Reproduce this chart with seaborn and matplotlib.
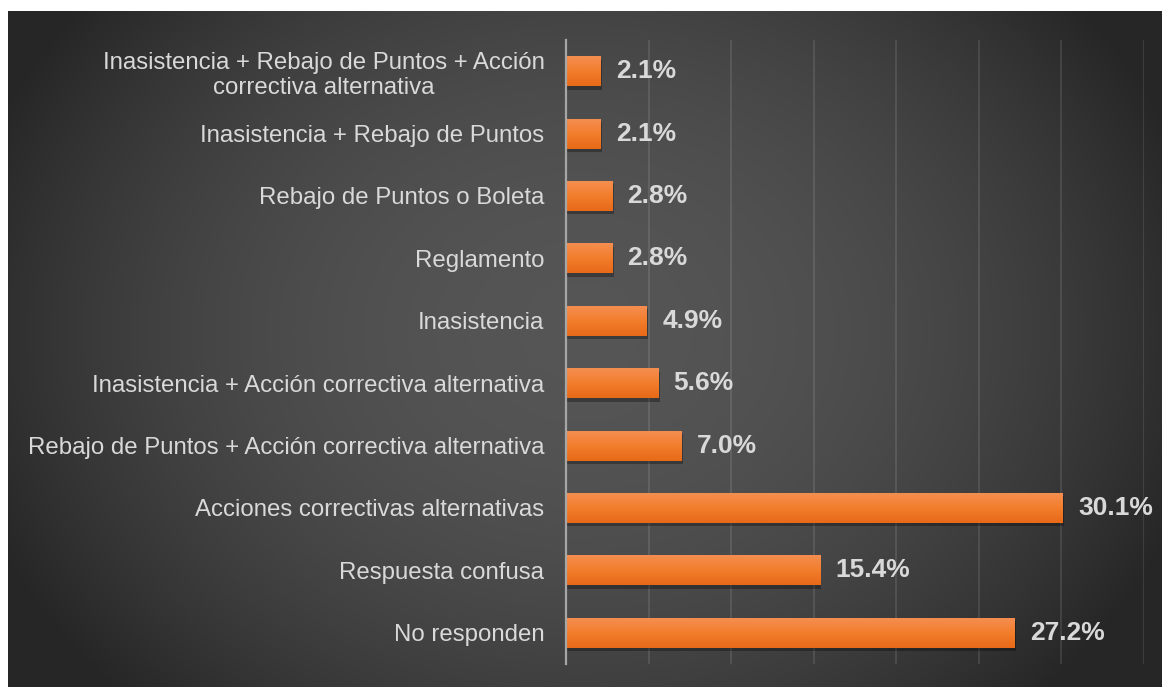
import numpy as np
import pandas as pd
import matplotlib
matplotlib.use("Agg")
import matplotlib.pyplot as plt
import seaborn as sns
from matplotlib import patheffects as pe
from matplotlib.colors import LinearSegmentedColormap

# Responses (percent of respondents)
categories = [
    "Inasistencia + Rebajo de Puntos + Acción\ncorrectiva alternativa",
    "Inasistencia + Rebajo de Puntos",
    "Rebajo de Puntos o Boleta",
    "Reglamento",
    "Inasistencia",
    "Inasistencia + Acción correctiva alternativa",
    "Rebajo de Puntos + Acción correctiva alternativa",
    "Acciones correctivas alternativas",
    "Respuesta confusa",
    "No responden",
]
percentages = [2.1, 2.1, 2.8, 2.8, 4.9, 5.6, 7.0, 30.1, 15.4, 27.2]
x_ticks = [0, 5, 10, 15, 20, 25, 30, 35]

df = pd.DataFrame({"categoria": categories, "porcentaje": percentages})

sns.set_theme(style="dark")
plt.rcParams["font.family"] = ["Liberation Sans", "DejaVu Sans"]

W, H = 1162, 687
fig = plt.figure(figsize=(W / 100, H / 100), dpi=100, facecolor="white")

# Dark panel with a soft radial gradient
px0, py0 = 8, 11
pw, ph = W - px0, H - py0
bg = fig.add_axes([px0 / W, 0, pw / W, ph / H], zorder=0)
yy, xx = np.mgrid[0:ph, 0:pw]
cx, cy = 572, 320
r = np.sqrt(((xx - cx) / 640.0) ** 2 + ((yy - cy) / 520.0) ** 2)
edge, centre = 0.150, 0.335
shade = edge + (centre - edge) * np.clip(1 - r ** 2, 0, 1)
bg.imshow(np.dstack([shade] * 3), aspect="auto", interpolation="bilinear")
bg.set_axis_off()

# Bar chart axes
left, right = 566, 1143.5
top, bottom = 40, 664
ax = fig.add_axes([left / W, 1 - bottom / H, (right - left) / W, (bottom - top) / H], zorder=1)
ax.set_facecolor("none")

sns.barplot(data=df, x="porcentaje", y="categoria", orient="h", color="#F07D2E",
            saturation=1, width=0.48, ax=ax, zorder=3, linewidth=0, edgecolor="none")

ax.set_xlim(0, 35)
ylim = (len(categories) - 0.5, -0.5)
ax.set_ylim(*ylim)

# Orange vertical gradient + soft drop shadow on each bar
grad = LinearSegmentedColormap.from_list("naranja", ["#F48E50", "#F27D2C", "#E76A18"])
gvals = np.linspace(0, 1, 64).reshape(-1, 1)
for patch in ax.patches:
    patch.set_linewidth(0)
    patch.set_edgecolor("none")
    patch.set_path_effects([pe.SimplePatchShadow(offset=(1, -2.5), shadow_rgbFace="black", alpha=0.3),
                            pe.Normal()])
    x0, y0 = patch.get_x(), patch.get_y()
    w, h = patch.get_width(), patch.get_height()
    im = ax.imshow(gvals, cmap=grad, extent=[x0, x0 + w, y0 + h, y0], origin="upper",
                   aspect="auto", interpolation="bilinear", zorder=4)
    im.set_clip_path(patch)
ax.set_xlim(0, 35)
ax.set_ylim(*ylim)
ax.set_aspect("auto")

# Value labels
for i, v in enumerate(percentages):
    ax.annotate(f"{v:.1f}%", xy=(v, i), xytext=(11, 0), textcoords="offset points",
                va="center", ha="left", fontsize=19, fontweight="bold", color="#D9D9D9",
                zorder=5, annotation_clip=False)

# Grid, spines, ticks
ax.set_xticks(x_ticks)
ax.set_xticklabels([])
ax.xaxis.grid(True, color="#FFFFFF", alpha=0.1, linewidth=1.5)
ax.yaxis.grid(False)
ax.set_axisbelow(True)
for side in ["top", "right", "bottom"]:
    ax.spines[side].set_visible(False)
ax.spines["left"].set_color("#A6A6A6")
ax.spines["left"].set_linewidth(1.6)
ax.spines["left"].set_zorder(6)
ax.tick_params(axis="x", length=0)
ax.tick_params(axis="y", length=0, pad=15.5, labelsize=17.3, labelcolor="#D9D9D9")
for lbl in ax.get_yticklabels():
    lbl.set_multialignment("center")
ax.set_xlabel("")
ax.set_ylabel("")

fig.savefig("out.png", dpi=100, facecolor="white")
